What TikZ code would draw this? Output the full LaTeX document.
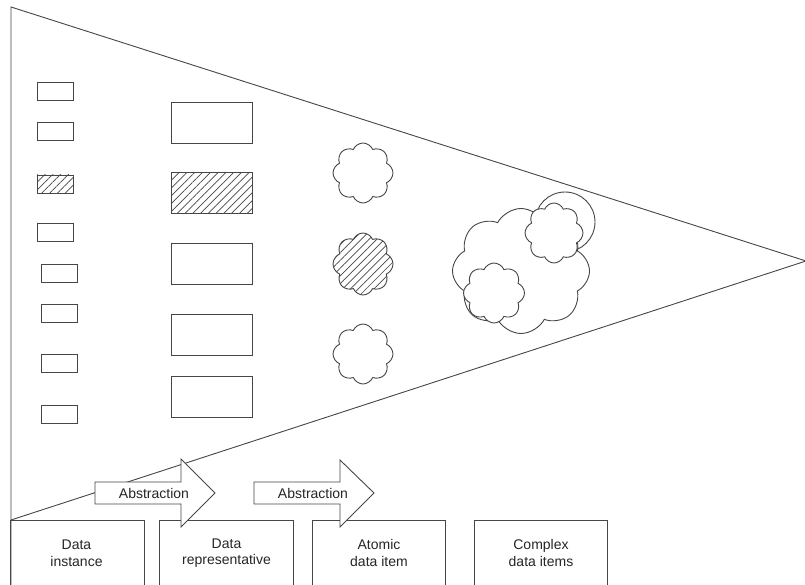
\documentclass[tikz,border=0pt]{standalone}
\usepackage{fontspec}
\setmainfont{Liberation Sans}
\usetikzlibrary{shapes.symbols,patterns.meta}
\definecolor{lc}{RGB}{70,70,70}
\tikzset{
  every picture/.style={x=1pt,y=-1pt},
  ln/.style={draw=lc,line width=0.9pt},
  smallrect/.style={ln,rectangle,minimum width=36pt,minimum height=18pt,inner sep=0pt,fill=white},
  bigrect/.style={ln,rectangle,minimum width=81pt,minimum height=41pt,inner sep=0pt,fill=white},
  hatch/.style={pattern={Lines[angle=45,distance=5.5pt,line width=0.7pt]},pattern color=lc},
  cloudy/.style={ln,cloud,cloud puffs=8,cloud puff arc=135,aspect=1,inner sep=0pt,fill=white},
  lbl/.style={font=\fontsize{14}{16.5}\selectfont,align=center,text=black!85,inner sep=0pt},
  levelbox/.style={rectangle,minimum width=133pt,minimum height=80pt,anchor=north,inner sep=0pt},
}
\begin{document}
\begin{tikzpicture}
\useasboundingbox (0,0) rectangle (805,585);
\clip (0,0) rectangle (805,585);
\fill[white] (0,0) rectangle (805,585);
% funnel
\coordinate (top) at (11,7);
\coordinate (tip) at (806,261);
\coordinate (low) at (11,520);
\coordinate (bot) at (11,590);
\draw[ln] (bot) -- (top) -- (tip) -- (low);
% column 1
\node[smallrect] (r1) at (55,91) {};
\node[smallrect] (r2) at (55,131.5) {};
\node[smallrect,hatch] (r3) at (55,184) {};
\node[smallrect] (r4) at (55,232) {};
\node[smallrect] (r5) at (59,273) {};
\node[smallrect] (r6) at (59,313.5) {};
\node[smallrect] (r7) at (59,363.5) {};
\node[smallrect] (r8) at (59,414) {};
% column 2
\node[bigrect] (b1) at (212,123) {};
\node[bigrect,hatch] (b2) at (212,193) {};
\node[bigrect] (b3) at (212,263.5) {};
\node[bigrect] (b4) at (212,334.5) {};
\node[bigrect] (b5) at (212,397) {};
% atomic clouds
\node[cloudy,minimum width=60pt,minimum height=60pt] (c1) at (363,173) {};
\node[cloudy,hatch,minimum width=60pt,minimum height=62pt] (c2) at (363,264) {};
\node[cloudy,minimum width=60pt,minimum height=60pt] (c3) at (363,354) {};
% complex cloud
\node[cloudy,cloud puffs=8,cloud puff arc=125,minimum width=137pt,minimum height=125pt] (cc) at (521,271) {};
\node[ln,circle,minimum size=60pt,inner sep=0pt] (ring) at (565,222) {};
\node[cloudy,minimum width=58pt,minimum height=60pt] (ci1) at (554,233) {};
\node[cloudy,minimum width=61pt,minimum height=60pt] (ci2) at (494,293) {};
% level boxes
\node[levelbox] (L1) at (77.5,520) {};
\node[levelbox] (L2) at (226.5,520) {};
\node[levelbox] (L3) at (379,520) {};
\node[levelbox] (L4) at (541,520) {};
\foreach \b in {L1,L2,L3,L4}{
  \draw[ln] (\b.south west) -- (\b.north west) -- (\b.north east) -- (\b.south east);
}
\node[lbl] (t1) at (76.5,553) {Data\\instance};
\node[lbl] (t2) at (226.5,553) {Data\\representative};
\node[lbl] (t3) at (379,553) {Atomic\\data item};
\node[lbl] (t4) at (541,553) {Complex\\data items};
% abstraction arrows
\draw[ln,fill=white] (95,482) -- (181,482) -- (181,459) -- (215,493) -- (181,527) -- (181,504) -- (95,504) -- cycle;
\draw[ln,fill=white] (254,482) -- (340,482) -- (340,460) -- (374,493) -- (340,527) -- (340,504) -- (254,504) -- cycle;
\node[lbl] (a1) at (154,493) {Abstraction};
\node[lbl] (a2) at (313,493) {Abstraction};
\end{tikzpicture}
\end{document}
